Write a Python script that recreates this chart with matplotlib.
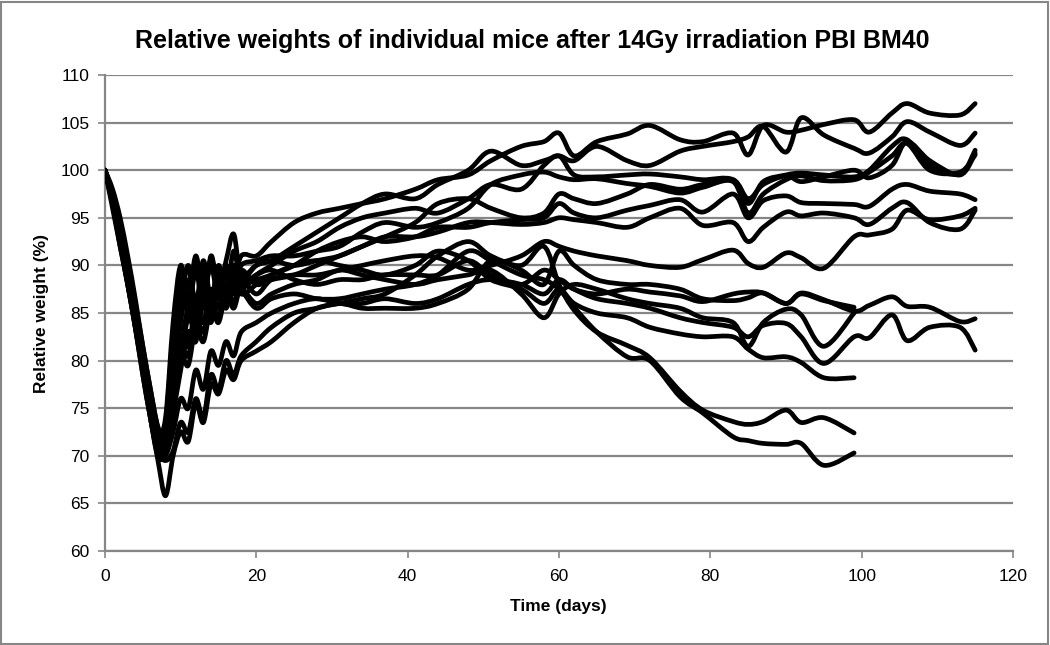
import matplotlib
matplotlib.use("Agg")
import matplotlib.pyplot as plt
from matplotlib.path import Path
from matplotlib.patches import PathPatch, Rectangle
import numpy as np

plt.rcParams['font.family'] = ['Liberation Sans', 'DejaVu Sans']

title = "Relative weights of individual mice after 14Gy irradiation PBI BM40"
xlabel = "Time (days)"
ylabel = "Relative weight (%)"
xticks = [0, 20, 40, 60, 80, 100, 120]
yticks = [60, 65, 70, 75, 80, 85, 90, 95, 100, 105, 110]

days = [0, 1, 2, 3, 4, 5, 6, 7, 8, 9, 10, 11, 12, 13, 14, 15, 16, 17, 18,
        20, 22, 25, 28, 31, 34, 37, 41, 44, 48, 51, 55, 58,
        60, 62, 65, 69, 72, 76, 79, 83, 85, 87, 90, 92, 95, 99,
        101, 104, 106, 109, 113, 115]

# early (d0-18) | mid (d20-58) | late (d60-99) | tail (d101-115)
m1 = [100, 97, 93.5, 89.5, 85, 80.5, 76, 72, 73.5, 83, 89.5, 86, 90.5, 86.5, 90.5, 87, 90, 88, 91,
      91, 92.5, 94.5, 95.5, 96, 96.5, 97, 98, 99, 99.5, 101, 102.5, 103,
      103.9, 101.5, 103, 103.8, 104.7, 103.2, 103, 103.9, 101.6, 104.7, 104, 104.2, 104.8, 105.3,
      104, 106, 107, 106, 105.8, 107]
m2 = [100, 97.5, 94, 90.5, 86, 81, 76.5, 72.5, 71.5, 78, 84, 88.5, 85, 89.5, 86, 90, 87, 91.5, 88.5,
      90, 90.5, 92, 93.5, 95, 96.5, 97.5, 97, 98.5, 100, 102, 100.5, 101,
      101.5, 101, 102.5, 101, 100.5, 102, 102.5, 103, 103.5, 104.6, 101.9, 105.5, 103.7, 102.3,
      101.8, 103.5, 105.1, 104, 102.6, 103.9]
m3 = [100, 96.5, 92.5, 88.5, 84, 79, 74.5, 71, 70.5, 75, 80, 84.5, 83, 87, 84.5, 88, 86, 89, 87.5,
      89, 90, 91.5, 92.5, 94, 95, 95.5, 96, 95.5, 97, 98.5, 98, 100.5,
      101.5, 99.5, 99.3, 99.5, 99.6, 99.3, 99.0, 99.0, 96.5, 98.8, 99.5, 99.7, 99.5, 99.3,
      100, 102.5, 103.2, 100.5, 99.6, 102.1]
m4 = [100, 97.5, 94, 90, 85.5, 81, 76.5, 72.5, 74, 84, 90, 86.5, 91, 87, 90, 86.5, 89.5, 87.5, 90,
      90.5, 91, 91, 91.5, 92, 93.5, 94.5, 94, 94.5, 96, 98.5, 99.5, 99.8,
      99.3, 99, 99.1, 98.6, 98.3, 97.6, 98.2, 98.8, 95.5, 97.5, 99, 99.4, 98.9, 99.0,
      99.8, 101.5, 102.8, 100, 99.8, 101.6]
m5 = [100, 97, 93, 89, 84.5, 80, 75.5, 71.5, 72, 77.5, 82.5, 81.5, 85.5, 84, 87.5, 85.5, 89, 87, 89.5,
      88, 88.5, 89, 90, 91, 92, 93, 94.5, 96.5, 97, 96, 95, 95.5,
      97.5, 97, 96.5, 97.5, 98.5, 98, 98.5, 99, 97, 98.5, 99.4, 98.8, 99.3, 100,
      99.2, 100.5, 103, 101, 99.5, 101.8]
m6 = [100, 98, 95, 91, 86.5, 81.5, 77, 73, 72, 79, 86, 90, 86, 90.5, 86.5, 89.5, 86.5, 90, 88,
      88.5, 89, 90, 91.5, 92.5, 93, 92.5, 93, 94, 94, 94.5, 94.8, 95,
      96.5, 95.5, 95, 95.8, 96.3, 96.9, 95.6, 97.5, 95, 96.8, 97.3, 96.6, 96.5, 96.4,
      96.2, 98, 98.5, 97.8, 97.5, 96.9]
m7 = [100, 97, 93, 89, 84.5, 80, 75.5, 71.5, 72.5, 81, 88, 85, 89.5, 85.5, 91, 87.5, 90.5, 93.3, 89,
      90, 90.5, 90, 90.5, 91, 92, 93, 93, 93.5, 94.5, 94.5, 94.3, 94.5,
      95, 94.8, 94.5, 94, 95, 96, 94.2, 94.5, 92.5, 94.0, 95.6, 95.2, 95.5, 95,
      94.3, 96, 96.6, 94.5, 93.8, 95.8]
m8 = [100, 96.5, 92.5, 88.5, 84, 79.5, 75, 71, 71.5, 76.5, 81.5, 80.5, 84.5, 83, 86.5, 84.5, 88, 86, 88.5,
      87, 88.5, 89, 89, 89.5, 90, 90.5, 91, 90.8, 89.5, 90, 91, 92.5,
      92, 91.5, 91, 90.5, 90, 89.8, 90.6, 91.6, 90.2, 89.8, 91.3, 90.8, 89.7, 93,
      93.2, 93.8, 95.8, 94.8, 95.2, 96]
m9 = [100, 97, 93, 89, 84.5, 79.5, 75, 71.5, 71, 76, 81, 85.5, 84, 88, 85.5, 89, 86.5, 89.5, 88,
      89, 89.5, 88.5, 88, 88.5, 88.5, 89, 89, 89, 90.5, 89, 88, 89.5,
      88.5, 87.5, 87, 87.5, 87.2, 86.8, 86.2, 87.0, 87.2, 87.1, 86.0, 87.1, 86.4, 85.2,
      85.8, 86.7, 85.7, 85.6, 84.1, 84.4]
m10 = [100, 96, 92, 88, 83.5, 78.5, 74, 70, 70, 72.5, 76, 75, 79, 77, 81, 79.5, 82, 80.5, 83,
       84, 85, 86, 86.5, 86, 86, 86.5, 86, 86.5, 88, 88.5, 88, 87,
       88.5, 87.5, 86.5, 86, 85.5, 84.5, 84, 83.5, 82.5, 83.7, 83.9, 82.5, 79.7, 82.5,
       82.4, 84.8, 82.1, 83.5, 83.5, 81.1]
m11 = [100, 96.5, 92.5, 88, 83.5, 79, 74.5, 70.5, 69.5, 70.5, 73.5, 72.5, 76, 74, 78.5, 77, 80, 78.5, 80.5,
       82, 83.5, 85, 85.5, 86, 85.5, 85.5, 85.5, 86, 87.5, 90.5, 89.5, 88,
       91.5, 90, 88.5, 88, 88, 87.5, 86.5, 86.3, 86.6, 87.1, 86, 87, 86.3, 85.6,
       None, None, None, None, None, None]
m12 = [100, 97, 93.5, 89.5, 85, 80, 76, 72, 71, 75.5, 80.5, 79.5, 83.5, 82, 85.5, 84, 87, 85.5, 87.5,
       86, 87, 88, 88.5, 89.5, 89, 88.5, 88, 88.5, 89, 89.5, 87, 84.5,
       87, 88, 87.5, 86.5, 86, 85.5, 84.5, 84, 81.5, 84, 85.4, 84.8, 81.5, 85.0,
       None, None, None, None, None, None]
m13 = [100, 97.5, 94.5, 90.5, 86, 81.5, 77, 73, 72, 80, 87.5, 89.5, 86, 89, 85.5, 88.5, 86, 89.5, 87,
       88, 89, 90, 90.5, 90, 89.5, 89, 90, 91.5, 90.5, 88.5, 87.5, 86,
       87.5, 86, 85, 84.5, 83.5, 82.8, 82.5, 82.5, 81.2, 80.3, 80.4, 79.8, 78.2, 78.2,
       None, None, None, None, None, None]
m14 = [100, 97, 93, 88.5, 84, 79, 74, 69.5, 65.8, 70, 72.5, 71.5, 75.5, 73.5, 77.5, 76.5, 79, 78, 80,
       81, 82, 84, 85.5, 86, 86.5, 87, 89, 91, 92.5, 91, 90, 92,
       88, 85.3, 83, 81.6, 80.3, 76.8, 74.8, 73.6, 73.3, 73.6, 74.8, 73.5, 74, 72.4,
       None, None, None, None, None, None]
m15 = [100, 96.5, 92, 88, 83.5, 78.5, 74, 70.5, 71, 74.5, 79, 83, 82, 86, 84, 87.5, 85.5, 88.5, 87.5,
       85.5, 86.5, 87, 86.5, 86.5, 87, 87.5, 88, 89, 91.5, 90.5, 89, 88.5,
       87.5, 85.6, 83, 80.4, 80, 76.2, 74.5, 72.0, 71.6, 71.3, 71.2, 71.3, 69.0, 70.3,
       None, None, None, None, None, None]

mice = [m1, m2, m3, m4, m5, m6, m7, m8, m9, m10, m11, m12, m13, m14, m15]


def smooth_path(xs, ys):
    """Excel-style smoothed line: cubic Bezier segments through the points."""
    pts = np.column_stack([xs, ys]).astype(float)
    n = len(pts)
    verts = [pts[0]]
    codes = [Path.MOVETO]
    for i in range(n - 1):
        p0 = pts[i - 1] if i > 0 else pts[i]
        p1 = pts[i]
        p2 = pts[i + 1]
        p3 = pts[i + 2] if i + 2 < n else pts[i + 1]
        c1 = p1 + (p2 - p0) / 6.0
        c2 = p2 - (p3 - p1) / 6.0
        verts += [c1, c2, p2]
        codes += [Path.CURVE4] * 3
    return Path(verts, codes)


W, H = 1050, 645
fig = plt.figure(figsize=(W / 100, H / 100), dpi=100)
ax = fig.add_axes([105 / W, 1 - 551 / H, 908 / W, 476 / H])

for m in mice:
    xs = [d for d, v in zip(days, m) if v is not None]
    ys = [v for v in m if v is not None]
    ax.add_patch(PathPatch(smooth_path(xs, ys), facecolor='none', edgecolor='black',
                           lw=3.4, capstyle='round', joinstyle='round', zorder=3))

gray = '#868686'
ax.set_xlim(0, 120)
ax.set_ylim(60, 110)
ax.set_xticks(xticks)
ax.set_yticks(yticks)
ax.yaxis.grid(True, color=gray, lw=1.6)
ax.set_axisbelow(True)
for s in ['top', 'right']:
    ax.spines[s].set_visible(False)
for s in ['left', 'bottom']:
    ax.spines[s].set_color(gray)
    ax.spines[s].set_linewidth(1.6)
ax.tick_params(axis='both', colors=gray, width=1.2, length=5, labelsize=12.5,
               labelcolor='black', direction='out')
ax.tick_params(axis='x', pad=8)
ax.tick_params(axis='y', pad=6)

fig.text(532 / W, 1 - 41 / H, title, ha='center', va='center',
         fontsize=18, fontweight='bold')
fig.text(558 / W, 1 - 607 / H, xlabel, ha='center', va='center',
         fontsize=12.5, fontweight='bold')
fig.text(42 / W, 1 - 313 / H, ylabel, ha='center', va='center', rotation=90,
         fontsize=12.5, fontweight='bold')

fig.patches.append(Rectangle((1 / W, 1 / H), 1 - 3 / W, 1 - 3 / H, transform=fig.transFigure,
                             fill=False, edgecolor=gray, lw=1.5))

fig.savefig("out.png", dpi=100)
